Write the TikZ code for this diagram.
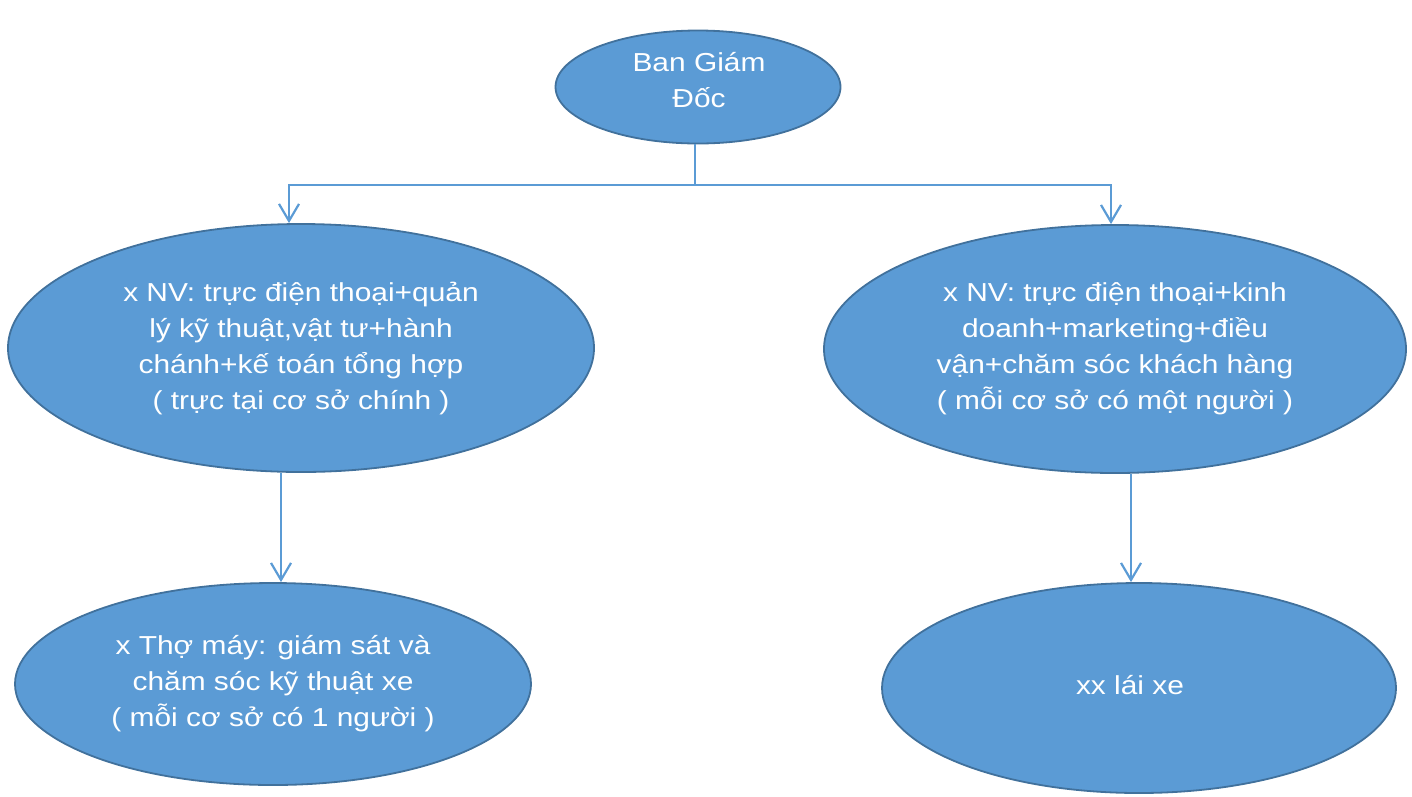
\documentclass[tikz,border=0pt]{standalone}
\usepackage{fontspec}
\setmainfont{Liberation Sans}[FakeStretch=1.15]
\usetikzlibrary{shapes.geometric,arrows.meta}
\definecolor{fillblue}{RGB}{91,155,213}
\definecolor{edgeblue}{RGB}{65,113,156}
\begin{document}
\begin{tikzpicture}[x=1pt,y=-1pt,
  oval/.style={ellipse, fill=fillblue, draw=edgeblue, line width=1.8pt, inner sep=0pt,
    text=white, align=center, font=\fontsize{26}{36}\selectfont},
  txt/.style={inner sep=0pt, text=white, align=center, font=\fontsize{26}{36}\selectfont},
  link/.style={draw=fillblue, line width=2.2pt},
  arr/.style={link, -{Straight Barb[length=17pt,width=20pt]}}]
\useasboundingbox (0,0) rectangle (1412,796);
\node[oval, minimum width=285pt, minimum height=113pt] (top) at (698,87) {};
\node[txt] (toptext) at (699,80) {Ban Giám\\Đốc};
\node[oval, minimum width=586pt, minimum height=248pt] (lm) at (301,348)
  {x NV: trực điện thoại+quản\\lý kỹ thuật,vật tư+hành\\chánh+kế toán tổng hợp\\( trực tại cơ sở chính )};
\node[oval, minimum width=582pt, minimum height=248pt] (rm) at (1115,349)
  {x NV: trực điện thoại+kinh\\doanh+marketing+điều\\vận+chăm sóc khách hàng\\( mỗi cơ sở có một người )};
\node[oval, minimum width=516pt, minimum height=202pt] (bl) at (273,684)
  {x Thợ máy: giám sát và\\chăm sóc kỹ thuật xe\\( mỗi cơ sở có 1 người )};
\node[oval, minimum width=514pt, minimum height=210pt] (br) at (1139,688) {};
\node[txt] (brtext) at (1130,685) {xx lái xe};
\coordinate (bus) at (695,185);
\coordinate (xl) at (289,185);
\coordinate (xr) at (1111,185);
\coordinate (xbl) at (281,0);
\coordinate (xbr) at (1131,0);
\draw[link] (top.south -| bus) -- (bus);
\draw[arr] (bus) -- (xl) -- (lm.north -| xl);
\draw[arr] (bus) -- (xr) -- (rm.north -| xr);
\draw[arr] (lm.south -| xbl) -- (bl.north -| xbl);
\draw[arr] (rm.south -| xbr) -- (br.north -| xbr);
\end{tikzpicture}
\end{document}
